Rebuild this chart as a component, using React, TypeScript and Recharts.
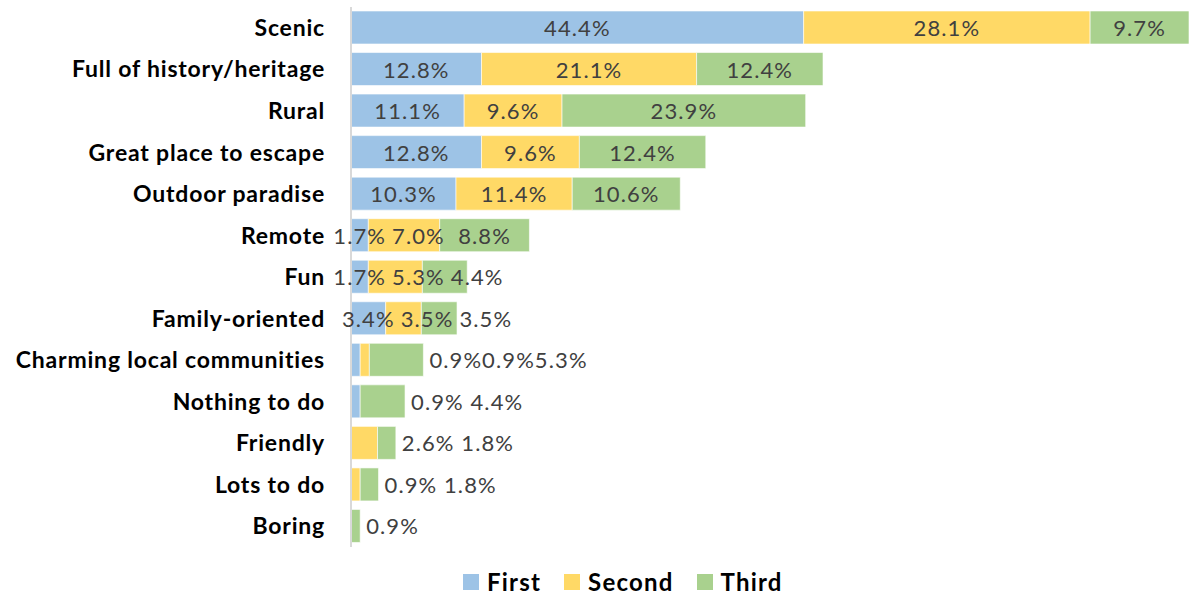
import React from "react";
import { BarChart, Bar, XAxis, YAxis, LabelList } from "recharts";

const categories = [
  "Scenic",
  "Full of history/heritage",
  "Rural",
  "Great place to escape",
  "Outdoor paradise",
  "Remote",
  "Fun",
  "Family-oriented",
  "Charming local communities",
  "Nothing to do",
  "Friendly",
  "Lots to do",
  "Boring"
];

const first = [44.4, 12.8, 11.1, 12.8, 10.3, 1.7, 1.7, 3.4, 0.9, 0.9, 0, 0, 0];
const second = [28.1, 21.1, 9.6, 9.6, 11.4, 7.0, 5.3, 3.5, 0.9, 0, 2.6, 0.9, 0];
const third = [9.7, 12.4, 23.9, 12.4, 10.6, 8.8, 4.4, 3.5, 5.3, 4.4, 1.8, 1.8, 0.9];

// the small bars at the bottom have their labels moved out past the bar end
const outsideLabels = ["", "", "", "", "", "", "", "", "0.9%0.9%5.3%", "0.9% 4.4%", "2.6% 1.8%", "0.9% 1.8%", "0.9%"];

const series = [
  { key: "first", name: "First", color: "#9DC3E6" },
  { key: "second", name: "Second", color: "#FFD966" },
  { key: "third", name: "Third", color: "#A9D18E" }
];

const FONT = "Lato, 'Open Sans', sans-serif";
const LABEL_SIZE = 22;
const LABEL_SPACING = 1.1;
const LABEL_GAP = 6;

const fmt = (v: number) => v.toFixed(1) + "%";

const data = categories.map((name, i) => ({
  name,
  first: first[i],
  second: second[i],
  third: third[i]
}));

let ctx: CanvasRenderingContext2D | null = null;
function textWidth(t: string) {
  if (!ctx) {
    ctx = document.createElement("canvas").getContext("2d");
  }
  if (!ctx) return t.length * LABEL_SIZE * 0.55;
  ctx.font = `${LABEL_SIZE}px Lato`;
  return ctx.measureText(t).width + t.length * LABEL_SPACING;
}

// draws every label of one row, pushing a label right when it would run into the previous one
function RowLabels(props: any) {
  const { x, y, width, height, index } = props;
  const i = index as number;
  const cy = Number(y) + Number(height) / 2;
  const common = {
    fill: "#404040",
    fontSize: LABEL_SIZE,
    fontFamily: FONT,
    letterSpacing: LABEL_SPACING,
    dominantBaseline: "central" as const
  };
  if (outsideLabels[i]) {
    return (
      <text x={Number(x) + Number(width) + 6} y={cy} textAnchor="start" {...common}>
        {outsideLabels[i]}
      </text>
    );
  }
  const vals = [first[i], second[i], third[i]];
  const scale = Number(width) / third[i];
  const x0 = Number(x) - (first[i] + second[i]) * scale;
  let cum = 0;
  let prevEnd = -Infinity;
  const out: React.ReactNode[] = [];
  vals.forEach((v, k) => {
    if (v > 0) {
      const t = fmt(v);
      const w = textWidth(t);
      const c = x0 + (cum + v / 2) * scale;
      const start = Math.max(c - w / 2, prevEnd + LABEL_GAP);
      prevEnd = start + w;
      out.push(
        <text key={k} x={start} y={cy} textAnchor="start" {...common}>
          {t}
        </text>
      );
    }
    cum += v;
  });
  return <g>{out}</g>;
}

export default function App() {
  return (
    <div style={{ position: "absolute", left: 0, top: 0, width: 1189, height: 596, overflow: "hidden", fontFamily: FONT }}>
      <BarChart
        width={1189}
        height={596}
        data={data}
        layout="vertical"
        margin={{ top: 7, right: 0, left: 0, bottom: 49 }}
      >
        <XAxis type="number" hide domain={[0, 82.2]} />
        <YAxis
          type="category"
          dataKey="name"
          width={351}
          tickSize={0}
          tickMargin={26}
          axisLine={{ stroke: "#D9D9D9", strokeWidth: 2 }}
          tickLine={false}
          interval={0}
          tick={{ fill: "#000000", fontSize: 23, fontWeight: 700, fontFamily: FONT, letterSpacing: 0.8 }}
        />
        {series.map((s) => (
          <Bar
            key={s.key}
            dataKey={s.key}
            stackId="a"
            fill={s.color}
            stroke="#ffffff"
            strokeWidth={0.6}
            barSize={33}
            isAnimationActive={false}
          >
            {s.key === "third" && <LabelList dataKey="third" content={RowLabels} />}
          </Bar>
        ))}
      </BarChart>
      <div
        style={{
          position: "absolute",
          left: 463,
          top: 570,
          height: 24,
          lineHeight: "24px",
          display: "flex",
          alignItems: "center",
          gap: 23,
          fontSize: 24,
          fontWeight: 700,
          letterSpacing: 1.2,
          color: "#000000"
        }}
      >
        {series.map((s) => (
          <div key={s.key} style={{ display: "flex", alignItems: "center", gap: 8 }}>
            <span style={{ display: "inline-block", width: 16, height: 16, background: s.color }} />
            <span>{s.name}</span>
          </div>
        ))}
      </div>
    </div>
  );
}
